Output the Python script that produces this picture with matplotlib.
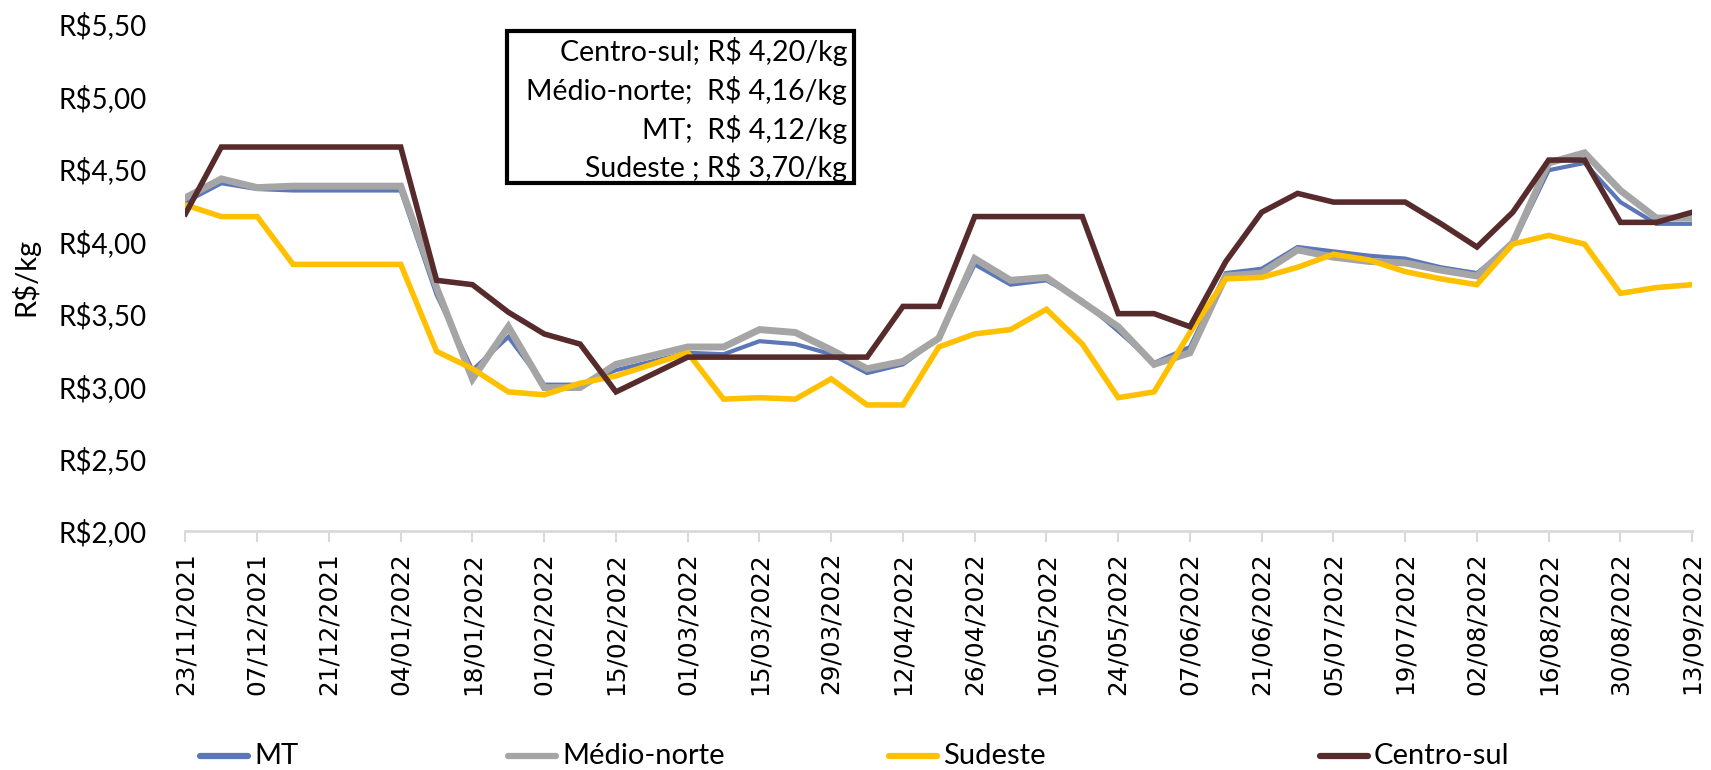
import numpy as np
import pandas as pd
import matplotlib
matplotlib.use('Agg')
import matplotlib.pyplot as plt
from matplotlib.lines import Line2D

# weekly prices R$/kg, 23/11/2021 .. 13/09/2022
semanas = pd.date_range('2021-11-23', '2022-09-13', freq='7D')

mt = [4.27, 4.40, 4.36, 4.35, 4.35, 4.35, 4.35, 3.63, 3.11, 3.34, 3.01, 3.01,
      3.11, 3.17, 3.23, 3.22, 3.31, 3.29, 3.22, 3.09, 3.15, 3.33, 3.84, 3.70,
      3.73, 3.59, 3.38, 3.16, 3.27, 3.78, 3.81, 3.96, 3.93, 3.90, 3.88, 3.82,
      3.78, 3.98, 4.49, 4.54, 4.27, 4.12, 4.12]
medio_norte = [4.30, 4.43, 4.37, 4.38, 4.38, 4.38, 4.38, 3.68, 3.05, 3.41, 2.99, 2.99,
               3.15, 3.21, 3.27, 3.27, 3.39, 3.37, 3.25, 3.12, 3.17, 3.33, 3.88, 3.73,
               3.75, 3.58, 3.41, 3.15, 3.23, 3.76, 3.78, 3.94, 3.89, 3.86, 3.85, 3.80,
               3.76, 3.99, 4.54, 4.61, 4.35, 4.16, 4.16]
sudeste = [4.25, 4.17, 4.17, 3.84, 3.84, 3.84, 3.84, 3.24, 3.12, 2.96, 2.94, 3.02,
           3.07, 3.15, 3.23, 2.91, 2.92, 2.91, 3.05, 2.87, 2.87, 3.27, 3.36, 3.39,
           3.53, 3.29, 2.92, 2.96, 3.37, 3.74, 3.75, 3.82, 3.91, 3.87, 3.79, 3.74,
           3.70, 3.98, 4.04, 3.98, 3.64, 3.68, 3.70]
centro_sul = [4.19, 4.65, 4.65, 4.65, 4.65, 4.65, 4.65, 3.73, 3.70, 3.51, 3.36, 3.29,
              2.96, 3.08, 3.20, 3.20, 3.20, 3.20, 3.20, 3.20, 3.55, 3.55, 4.17, 4.17,
              4.17, 4.17, 3.50, 3.50, 3.41, 3.86, 4.20, 4.33, 4.27, 4.27, 4.27, 4.12,
              3.96, 4.20, 4.56, 4.56, 4.13, 4.13, 4.20]

series = [('MT', mt, '#5B77B7', 3.0),
          ('Médio-norte', medio_norte, '#A5A5A5', 5.0),
          ('Sudeste', sudeste, '#FFC000', 4.0),
          ('Centro-sul', centro_sul, '#572B2B', 4.0)]

anotacao = ['Centro-sul; R$ 4,20/kg', 'Médio-norte;  R$ 4,16/kg',
            'MT;  R$ 4,12/kg', 'Sudeste ; R$ 3,70/kg']

fonte = 'Lato'

fig = plt.figure(figsize=(17.11, 7.7), dpi=100)
ax = fig.add_axes([0.1084, 0.3104, 0.8806, 0.6586])

x = np.arange(len(semanas))
for nome, vals, cor, lw in series:
    ax.plot(x, vals, color=cor, lw=lw, solid_joinstyle='miter', label=nome)

ax.set_xlim(0, len(semanas) - 1)
ax.set_ylim(2.0, 5.5)
yt = np.arange(2.0, 5.51, 0.5)
ax.set_yticks(yt)
ax.set_yticklabels(['R$' + f'{v:.2f}'.replace('.', ',') for v in yt],
                   fontsize=20, family=fonte)
ax.tick_params(axis='y', length=0, pad=28)
ax.set_ylabel('R$/kg', fontsize=21, family=fonte, labelpad=14)

ax.set_xticks(x[::2])
ax.set_xticklabels(semanas[::2].strftime('%d/%m/%Y'), rotation=90,
                   fontsize=17.8, family='DejaVu Sans')
ax.tick_params(axis='x', length=8, width=1.5, color='#D9D9D9', pad=7)

for s in ['top', 'right', 'left']:
    ax.spines[s].set_visible(False)
ax.spines['bottom'].set_color('#D9D9D9')
ax.spines['bottom'].set_linewidth(2)

# caixa de texto
box_x0, box_y0, box_x1, box_y1 = 507 / 1711, 1 - 183 / 770, 854 / 1711, 1 - 31 / 770
fig.add_artist(plt.Rectangle((box_x0, box_y0), box_x1 - box_x0, box_y1 - box_y0,
                             transform=fig.transFigure, fill=False,
                             edgecolor='black', lw=3))
for k, linha in enumerate(anotacao):
    fig.text(847 / 1711, 1 - (52 + 38.5 * k) / 770, linha, ha='right', va='center',
             fontsize=20.5, family=fonte)

# legenda
leg_x = [200, 508, 889, 1320]
yl = 1 - 756 / 770
for (nome, vals, cor, lw), lx in zip(series, leg_x):
    fig.add_artist(Line2D([lx / 1711, (lx + 48) / 1711], [yl, yl],
                          transform=fig.transFigure, color=cor, lw=4.5,
                          solid_capstyle='round'))
    fig.text((lx + 54) / 1711, yl, nome, ha='left', va='center',
             fontsize=21, family=fonte)

fig.savefig('out.png', dpi=100)
